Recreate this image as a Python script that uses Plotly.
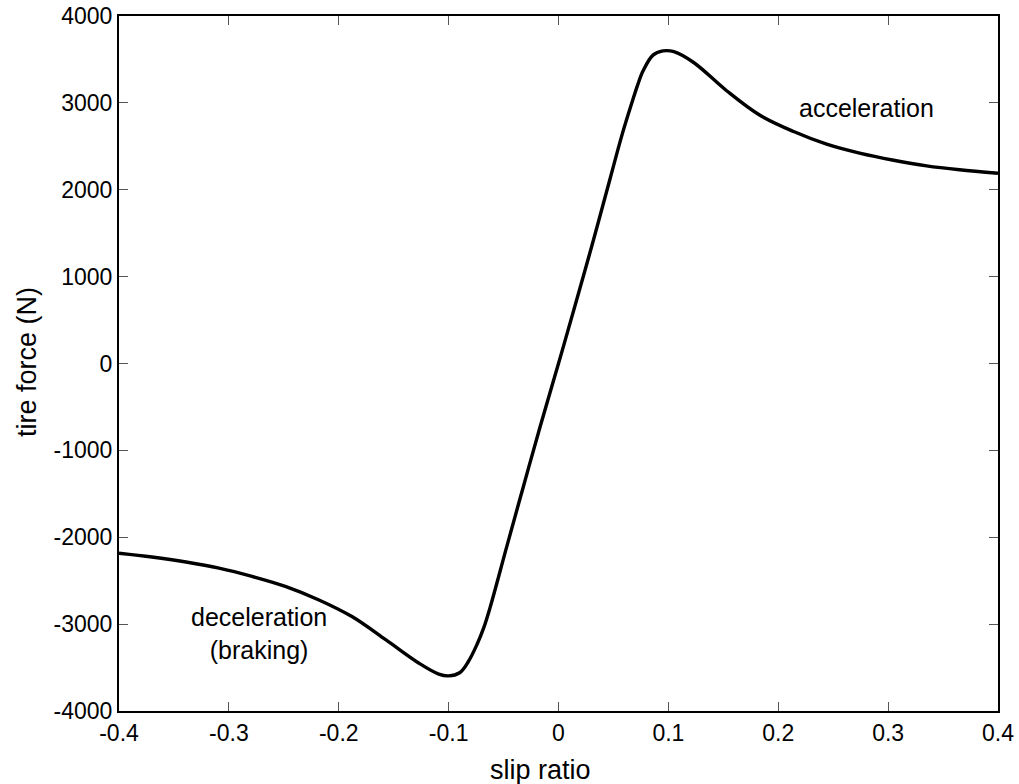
import plotly.graph_objects as go

# slip ratio vs. tire force
slip_ratio = [-0.40, -0.37, -0.339, -0.309, -0.279, -0.248, -0.218, -0.188, -0.157, -0.127,
              -0.109, -0.10, -0.09, -0.082, -0.0744, -0.068, -0.0623, -0.0471, -0.032, -0.0168, 0.0,
              0.0165, 0.032, 0.047, 0.058, 0.067, 0.072, 0.077, 0.086, 0.095, 0.105,
              0.123, 0.153, 0.183, 0.214, 0.244, 0.274, 0.305, 0.335, 0.365, 0.40]
tire_force = [-2184, -2228, -2285, -2355, -2450, -2568, -2722, -2913, -3182, -3450,
              -3575, -3596, -3560, -3430, -3240, -3040, -2810, -2108, -1418, -730, 0,
              730, 1430, 2130, 2640, 3010, 3205, 3370, 3550, 3598, 3590,
              3465, 3140, 2860, 2670, 2525, 2422, 2340, 2275, 2230, 2190]

x_ticks = [-0.4, -0.3, -0.2, -0.1, 0, 0.1, 0.2, 0.3, 0.4]
x_labels = ["-0.4", "-0.3", "-0.2", "-0.1", "0", "0.1", "0.2", "0.3", "0.4"]
y_ticks = [-4000, -3000, -2000, -1000, 0, 1000, 2000, 3000, 4000]
y_labels = ["-4000", "-3000", "-2000", "-1000", "0", "1000", "2000", "3000", "4000"]

font_family = "Liberation Sans, Arial, sans-serif"
note_font = dict(size=25, color="black", family=font_family)
title_font = dict(size=27, color="black", family=font_family)

fig = go.Figure()
fig.add_trace(go.Scatter(
    x=slip_ratio, y=tire_force, mode="lines",
    line=dict(color="black", width=3.4, shape="spline", smoothing=1.0),
    showlegend=False, hoverinfo="skip",
))

fig.add_annotation(x=0.28, y=2940, text="acceleration", showarrow=False, font=note_font)
fig.add_annotation(x=-0.273, y=-3113, text="deceleration<br>(braking)", showarrow=False,
                   font=note_font)

# axis titles as annotations so they sit where the reference has them
fig.add_annotation(x=0.48, xref="paper", y=-0.0845, yref="paper", text="slip ratio",
                   showarrow=False, yanchor="middle", font=title_font)
fig.add_annotation(x=-0.1047, xref="paper", y=0.502, yref="paper", text="tire force (N)",
                   showarrow=False, textangle=-90, xanchor="center", font=title_font)

axis_common = dict(
    showline=True, linecolor="black", linewidth=2, mirror="ticks",
    ticks="inside", ticklen=9, tickwidth=1, tickcolor="#555555",
    showgrid=False, zeroline=False, automargin=False,
    tickfont=dict(size=23, color="black", family=font_family),
)

fig.update_xaxes(range=[-0.4, 0.4], tickvals=x_ticks, ticktext=x_labels, **axis_common)
fig.update_yaxes(range=[-4000, 4000], tickvals=y_ticks, ticktext=y_labels, **axis_common)

fig.update_layout(
    width=1019, height=784,
    margin=dict(l=119, r=21, t=16, b=73),
    plot_bgcolor="white", paper_bgcolor="white",
    font=dict(family=font_family, color="black"),
)

# drop the default 8px page margin so the figure lines up with the window
fig.write_html("out.html", config={"displayModeBar": False},
               post_script="document.body.style.margin='0';")
